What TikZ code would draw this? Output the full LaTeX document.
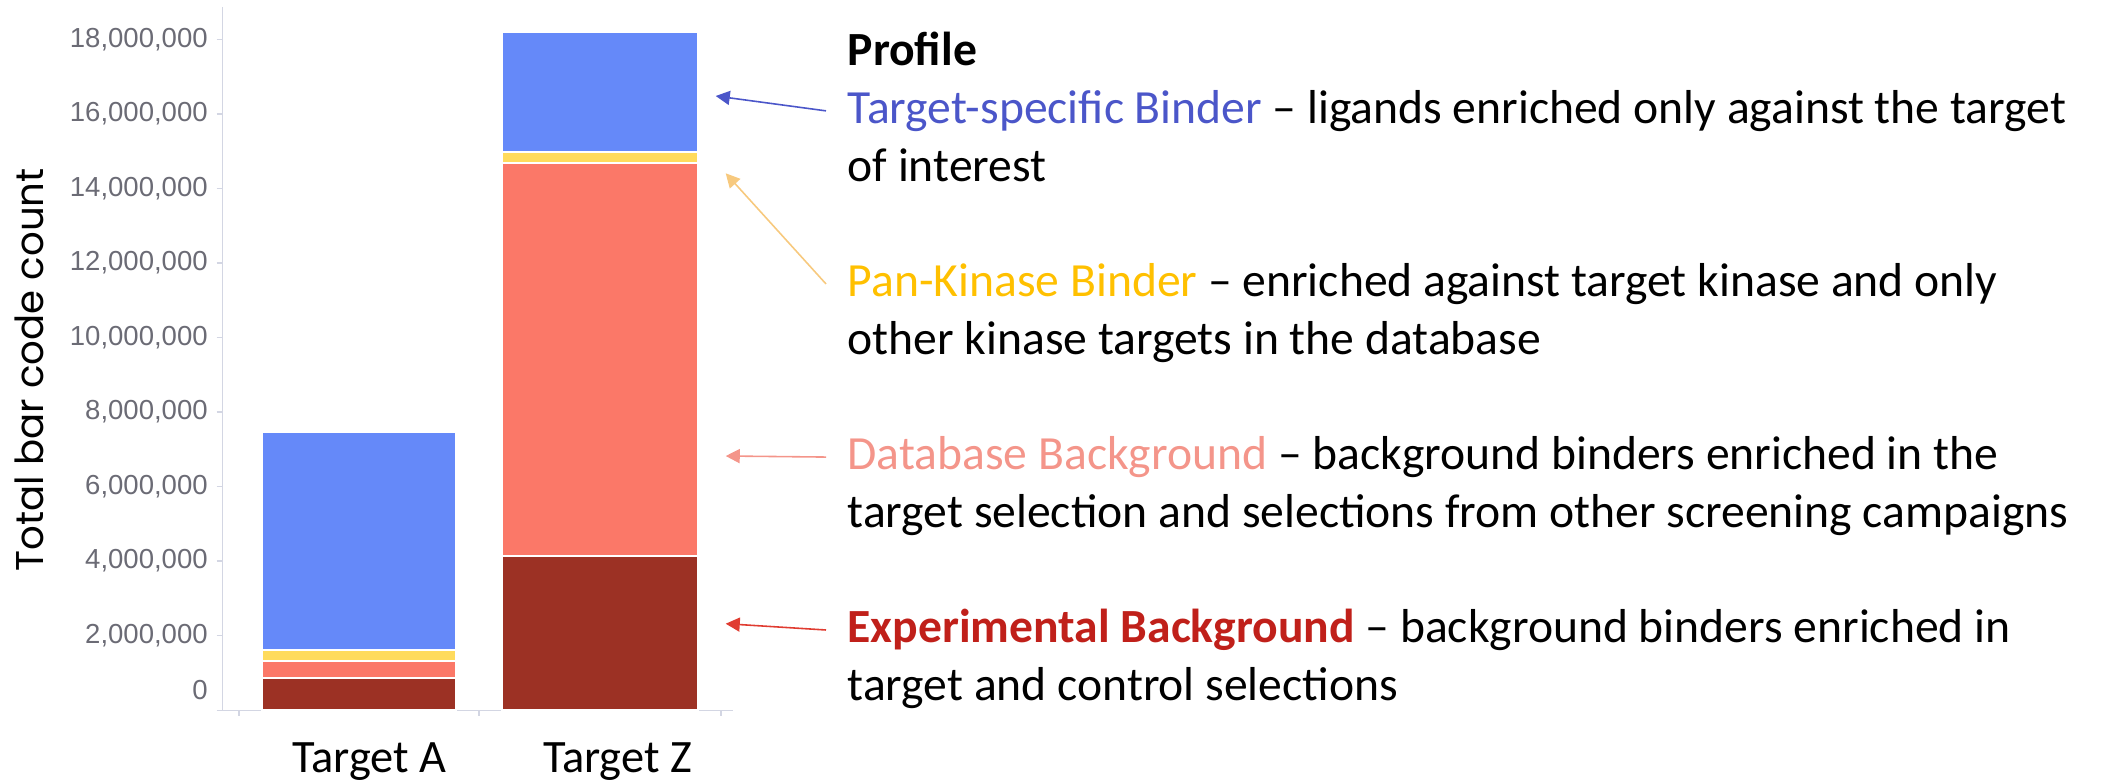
\documentclass[tikz,border=0pt]{standalone}
\usepackage{fontspec}
\setmainfont{Carlito}
\newfontfamily\tickfont{Liberation Sans}
\newfontfamily\titlefont{Poppins}
\usetikzlibrary{arrows.meta,positioning}

\definecolor{segblue}{HTML}{6589F9}
\definecolor{segyellow}{HTML}{FFDB5C}
\definecolor{segsalmon}{HTML}{FB7868}
\definecolor{segdark}{HTML}{9C3124}
\definecolor{axisgrey}{HTML}{D3D6E3}
\definecolor{tickgrey}{HTML}{6B6B75}
\definecolor{txtblue}{HTML}{4B56C9}
\definecolor{txtgold}{HTML}{FFC000}
\definecolor{txtpink}{HTML}{F4958A}
\definecolor{txtred}{HTML}{C0201A}
\definecolor{arryellow}{HTML}{F7C97E}
\definecolor{arrred}{HTML}{E03C31}

\begin{document}
\begin{tikzpicture}[x=0.01cm, y=-0.01cm,
  seg/.style = {draw=white, line width=0.5pt},
  axis/.style = {draw=axisgrey, line width=0.45pt},
  ylab/.style = {anchor=east, inner sep=0pt, text=tickgrey, font=\tickfont\fontsize{7.83}{9}\selectfont},
  cat/.style = {anchor=base, inner sep=0pt, font=\fontsize{13.2}{15}\selectfont},
  desc/.style = {anchor=base west, inner xsep=5.97pt, inner ysep=2pt, font=\fontsize{13.54}{16}\selectfont},
  pointer/.style = {line width=0.45pt, -{Triangle[length=4pt, width=4pt]}}]
\useasboundingbox (0,0) rectangle (2113,782);

% axes
\draw[axis] (222.3,7) -- (222.3,710.5);
\draw[axis] (216.7,710.5) -- (733,710.5);
\draw[axis] (216.7,635.5) -- (222.3,635.5) (216.7,561) -- (222.3,561) (216.7,486.4) -- (222.3,486.4)
  (216.7,411.9) -- (222.3,411.9) (216.7,337.4) -- (222.3,337.4) (216.7,262.9) -- (222.3,262.9)
  (216.7,188.4) -- (222.3,188.4) (216.7,113.8) -- (222.3,113.8) (216.7,39.3) -- (222.3,39.3);
\draw[axis] (239,710.5) -- (239,715.5) (479,710.5) -- (479,715.5) (721,710.5) -- (721,715.5);

% tick labels
\node[ylab] (t0) at (208.4,690) {0};
\node[ylab] (t2) at (208.4,635.5) {2,000,000};
\node[ylab] (t4) at (208.4,561) {4,000,000};
\node[ylab] (t6) at (208.4,486.4) {6,000,000};
\node[ylab] (t8) at (208.4,411.9) {8,000,000};
\node[ylab] (t10) at (208.4,337.4) {10,000,000};
\node[ylab] (t12) at (208.4,262.9) {12,000,000};
\node[ylab] (t14) at (208.4,188.4) {14,000,000};
\node[ylab] (t16) at (208.4,113.8) {16,000,000};
\node[ylab] (t18) at (208.4,39.3) {18,000,000};
\node[anchor=base, rotate=90, inner sep=0pt, font=\titlefont\fontsize{11}{13}\selectfont] (ytitle) at (43.3,370) {Total bar code count};

% stacked bars
\filldraw[seg, fill=segdark] (261.7,678.3) rectangle (456.3,710);
\filldraw[seg, fill=segsalmon] (261.7,660.7) rectangle (456.3,678.3);
\filldraw[seg, fill=segyellow] (261.7,650) rectangle (456.3,660.7);
\filldraw[seg, fill=segblue] (261.7,431.7) rectangle (456.3,650);
\filldraw[seg, fill=segdark] (502,555.7) rectangle (698.3,710);
\filldraw[seg, fill=segsalmon] (502,163.3) rectangle (698.3,555.7);
\filldraw[seg, fill=segyellow] (502,151.7) rectangle (698.3,163.3);
\filldraw[seg, fill=segblue] (502,31.7) rectangle (698.3,151.7);
\node[cat] (ca) at (369.2,772.7) {Target A};
\node[cat] (cz) at (617.5,772.7) {Target Z};

% legend text
\node[desc] (ts1) at (826,123.3) {\textcolor{txtblue}{Target-specific Binder} -- ligands enriched only against the target};
\node[desc] (ts2) at ([yshift=-0.58cm]ts1.base west) {of interest};
\node[desc, font=\bfseries\fontsize{13.54}{16}\selectfont] (prof) at ([yshift=0.58cm]ts1.base west) {Profile};
\node[desc] (pk1) at ([yshift=-1.15cm]ts2.base west) {\textcolor{txtgold}{Pan-Kinase Binder} -- enriched against target kinase and only};
\node[desc] (pk2) at ([yshift=-0.58cm]pk1.base west) {other kinase targets in the database};
\node[desc] (db1) at ([yshift=-1.15cm]pk2.base west) {\textcolor{txtpink}{Database Background} -- background binders enriched in the};
\node[desc] (db2) at ([yshift=-0.58cm]db1.base west) {target selection and selections from other screening campaigns};
\node[desc] (ex1) at ([yshift=-1.15cm]db2.base west) {\textcolor{txtred}{\bfseries Experimental Background} -- background binders enriched in};
\node[desc] (ex2) at ([yshift=-0.58cm]ex1.base west) {target and control selections};

% pointers
\coordinate (pblue) at (715.7,96);
\coordinate (pyellow) at (725.7,173.3);
\coordinate (psalmon) at (725.7,456);
\coordinate (pdark) at (725.7,623.7);
\draw[pointer, txtblue] (ts1.west) -- (pblue);
\draw[pointer, arryellow] (pk1.west) -- (pyellow);
\draw[pointer, txtpink] (db1.west) -- (psalmon);
\draw[pointer, arrred] (ex1.west) -- (pdark);
\end{tikzpicture}
\end{document}
